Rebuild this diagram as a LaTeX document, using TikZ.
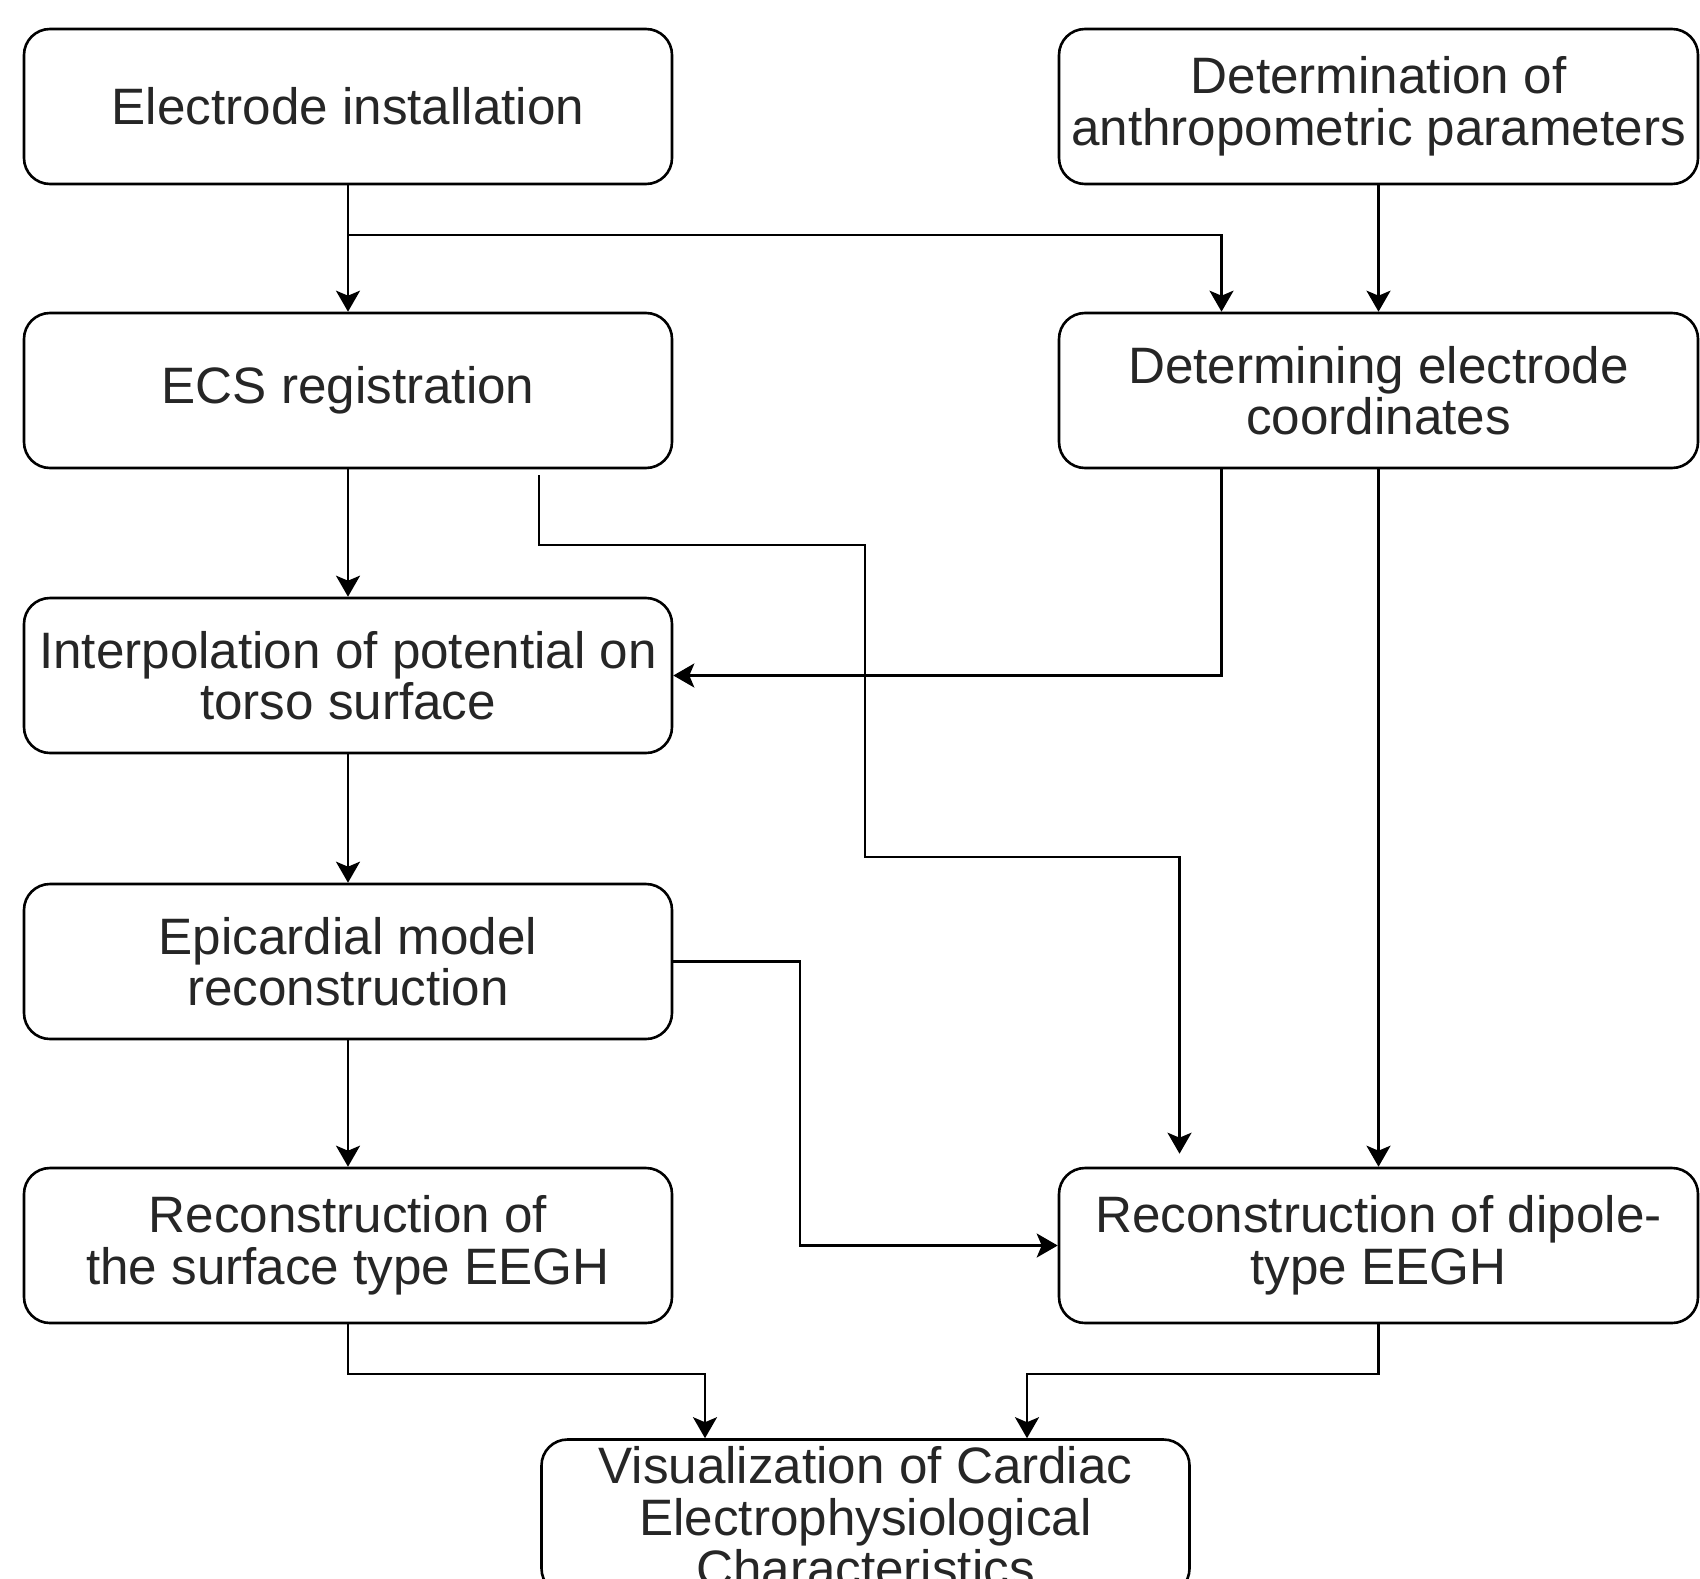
\documentclass[tikz,border=0pt]{standalone}
\usepackage{fontspec}
\setmainfont{Liberation Sans}
\usetikzlibrary{arrows.meta}
\definecolor{txt}{RGB}{38,38,38}
\begin{document}
\begin{tikzpicture}[x=0.5pt,y=-0.5pt,
  box/.style={draw=black, line width=1.3pt, rounded corners=13pt, align=center,
    text=txt, font=\fontsize{25.6pt}{25.8pt}\selectfont, inner sep=2pt,
    minimum height=77.5pt},
  lbox/.style={box, minimum width=324pt},
  rbox/.style={box, minimum width=319.5pt},
  arr/.style={draw=black, line width=1.3pt, -{Stealth[length=10.5pt,width=12pt,inset=2.5pt]}},
  ln/.style={draw=black, line width=1.3pt}]
\useasboundingbox (0,0) rectangle (1700,1578);
\clip (0,0) rectangle (1700,1578);
\fill[white] (0,0) rectangle (1700,1578);

\node[lbox] (ei)   at (348,106.5)  {Electrode installation};
\node[rbox] (ap)   at (1378.5,106.5) {Determination of\\anthropometric parameters};
\node[lbox] (ecs)  at (348,390.5)  {ECS registration};
\node[rbox] (dec)  at (1378.5,390.5) {Determining electrode\\coordinates};
\node[lbox] (ip)   at (348,675.5)  {Interpolation of potential on\\torso surface};
\node[lbox] (epi)  at (348,961.5)  {Epicardial model\\reconstruction};
\node[lbox] (surf) at (348,1245.5) {Reconstruction of\\the surface type EEGH};
\node[rbox] (dip)  at (1378.5,1245.5) {Reconstruction of dipole-\\type EEGH};
\node[lbox] (vis)  at (865.5,1517) {Visualization of Cardiac\\Electrophysiological\\Characteristics};

\coordinate (ecsout) at ([xshift=95.5pt,yshift=-3pt]ecs.south);

\draw[arr] (ei.south) -- (ecs.north);
\draw[arr] (ei.south) -- (348,235) -| ([xshift=-78.5pt]dec.north);
\draw[arr] (ap.south) -- (dec.north);
\draw[arr] (ecs.south) -- (ip.north);
\draw[arr] ([xshift=-78.5pt]dec.south) |- (ip.east);
\draw[arr] (dec.south) -- (dip.north);
\draw[arr] (ip.south) -- (epi.north);
\draw[arr] (epi.east) -- (800,961.5) |- (dip.west);
\draw[arr] (epi.south) -- (surf.north);
\draw[arr] (surf.south) -- (348,1374) -| ([xshift=-80.25pt]vis.north);
\draw[arr] (dip.south) -- (1378.5,1374) -| ([xshift=80.75pt]vis.north);
\draw[arr] (ecsout) -- (539,545) -- (865,545) -- (865,857) -| ([xshift=-99.5pt,yshift=6.5pt]dip.north);
\end{tikzpicture}
\end{document}
